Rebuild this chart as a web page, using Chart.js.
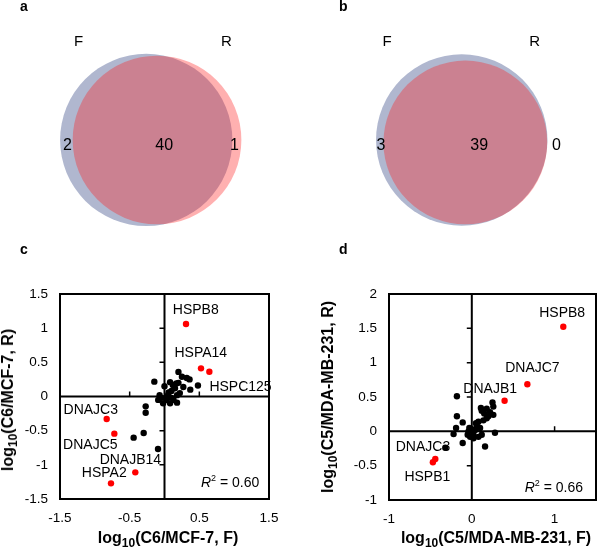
<!DOCTYPE html>
<html>
<head>
<meta charset="utf-8">
<script src="https://cdn.jsdelivr.net/npm/chart.js@4.4.1/dist/chart.umd.min.js"></script>
<style>
  body { margin: 0; background: #fff; }
  #fig { position: relative; width: 600px; height: 549px; overflow: hidden;
         font-family: "Liberation Sans", Arial, sans-serif; color: #000; }
  .pane { position: absolute; }
  .letter { position: absolute; font-weight: bold; font-size: 14px; line-height: 14px; }
  .title { position: absolute; font-weight: bold; font-size: 16px; line-height: 18px;
           white-space: nowrap; transform: translate(-50%, -50%); }
  .title sub { font-size: 12px; vertical-align: -4px; line-height: 0; }
  .rot { transform: translate(-50%, -50%) rotate(-90deg); }
</style>
</head>
<body>
<div id="fig">
  <canvas id="ca" class="pane" width="300" height="270" style="left:0;top:0"></canvas>
  <canvas id="cb" class="pane" width="300" height="270" style="left:300px;top:0"></canvas>
  <canvas id="cc" class="pane" width="300" height="279" style="left:0;top:270px"></canvas>
  <canvas id="cd" class="pane" width="300" height="279" style="left:300px;top:270px"></canvas>

  <div class="letter" style="left:20px;top:-1px">a</div>
  <div class="letter" style="left:339px;top:-1px">b</div>
  <div class="letter" style="left:20px;top:242px">c</div>
  <div class="letter" style="left:339px;top:242px">d</div>

  <div class="title" style="left:168px;top:538px">log<sub>10</sub>(C6/MCF-7, F)</div>
  <div class="title rot" style="left:8px;top:400px">log<sub>10</sub>(C6/MCF-7, R)</div>
  <div class="title" style="left:496px;top:538px">log<sub>10</sub>(C5/MDA-MB-231, F)</div>
  <div class="title rot" style="left:328px;top:397px">log<sub>10</sub>(C5/MDA-MB-231, R)</div>
</div>

<script>
// ---- venn data (F only, both, R only) ----
const setNames = ["F", "R"];
const vennCountsA = [2, 40, 1];
const vennCountsB = [3, 39, 0];
// circles F, R : centre x, centre y, radius (venn units)
const vennCirclesA = [[-0.044, -0.058, 1.005], [0.082, -0.058, 0.984]];
const vennCirclesB = [[0.137, -0.058, 1.0], [0.179, -0.087, 0.955]];

// ---- panel c : C6 / MCF-7 ----
const cBlackX = [-0.146, -0.27, -0.27, -0.443, -0.299, -0.093, 0.48, 0.08, 0.20, 0.25, 0.32, 0.36,
                 0.37, 0.17, 0.15, 0.10, -0.09, -0.07, 0.05, 0.03, 0.13, 0.08, 0.18, -0.02,
                 0.22, 0.27, 0.00, 0.12, 0.20, 0.06, 0.18, -0.04, 0.10];
const cBlackY = [0.217, -0.144, -0.237, -0.602, -0.534, -0.768, 0.16, 0.21, 0.36, 0.29, 0.27, 0.25,
                 0.10, 0.19, 0.12, 0.08, -0.05, 0.02, 0.02, -0.05, -0.05, -0.10, -0.09, -0.10,
                 0.05, 0.14, 0.15, 0.17, 0.20, 0.06, 0.02, -0.02, -0.02];
const cRedX = [0.309, 0.524, 0.644, -0.83, -0.72, -0.419, -0.768];
const cRedY = [1.061, 0.412, 0.363, -0.329, -0.544, -1.11, -1.271];
const cNames = ["HSPB8", "HSPA14", "HSPC125", "DNAJC3", "DNAJC5", "DNAJB14", "HSPA2"];
const cR2 = "0.60";
const cXTicks = [-1.5, -0.5, 0.5, 1.5];
const cYTicks = [-1.5, -1, -0.5, 0, 0.5, 1, 1.5];

// ---- panel d : C5 / MDA-MB-231 ----
const dBlackX = [-0.18, -0.18, -0.11, -0.19, -0.22, -0.32, -0.11, 0.16, 0.28, 0.25, 0.11, -0.04,
                 -0.02, 0.02, 0.06, 0.08, 0.12, 0.18, 0.22, 0.26, 0.26, 0.18, 0.14, 0.10,
                 0.04, 0.08, 0.02, -0.05, 0.05, 0.20, 0.12, 0.00, -0.03, 0.15];
const dBlackY = [0.51, 0.22, 0.13, 0.05, -0.04, -0.24, -0.17, -0.22, -0.02, 0.42, 0.34, 0.00,
                 -0.08, -0.10, 0.09, 0.14, 0.30, 0.33, 0.28, 0.36, 0.24, 0.19, 0.16, 0.05,
                 0.02, -0.08, -0.05, -0.05, 0.12, 0.22, -0.05, 0.03, 0.05, 0.26];
const dRedX = [1.105, 0.671, 0.396, -0.441, -0.47];
const dRedY = [1.524, 0.685, 0.446, -0.403, -0.451];
const dNames = ["HSPB8", "DNAJC7", "DNAJB1", "DNAJC3", "HSPB1"];
const dR2 = "0.66";
const dXTicks = [-1, 0, 1];
const dYTicks = [-1, -0.5, 0, 0.5, 1, 1.5, 2];

const FONT = '"Liberation Sans", Arial, sans-serif';
const pts = (xs, ys) => xs.map((v, i) => ({ x: v, y: ys[i] }));

// box, zero lines and their little ticks
const framePlugin = {
  id: 'frame',
  beforeDatasetsDraw(chart) {
    const { ctx, chartArea: a, scales: { x, y } } = chart;
    const x0 = x.getPixelForValue(0), y0 = y.getPixelForValue(0);
    ctx.save();
    ctx.strokeStyle = '#000';
    ctx.lineWidth = 2;
    ctx.strokeRect(a.left, a.top, a.right - a.left, a.bottom - a.top);
    ctx.beginPath();
    ctx.moveTo(x0, a.top); ctx.lineTo(x0, a.bottom);
    ctx.moveTo(a.left, y0); ctx.lineTo(a.right, y0);
    ctx.stroke();
    ctx.lineWidth = 1.5;
    ctx.beginPath();
    y.ticks.forEach(t => { const p = y.getPixelForValue(t.value); ctx.moveTo(x0 - 5, p); ctx.lineTo(x0, p); });
    x.ticks.forEach(t => { const p = x.getPixelForValue(t.value); ctx.moveTo(p, y0 - 5); ctx.lineTo(p, y0); });
    ctx.stroke();
    ctx.restore();
  }
};

// text placed in data coordinates
const textPlugin = {
  id: 'texts',
  afterDatasetsDraw(chart, args, opts) {
    const { ctx, scales: { x, y } } = chart;
    ctx.save();
    ctx.fillStyle = '#000';
    ctx.textBaseline = 'middle';
    (opts.items || []).forEach(it => {
      ctx.font = it.font;
      ctx.textAlign = 'center';
      ctx.fillText(it.text, x.getPixelForValue(it.x), y.getPixelForValue(it.y));
    });
    if (opts.r2) {
      const px = x.getPixelForValue(opts.r2.x), py = y.getPixelForValue(opts.r2.y);
      const rest = ' = ' + opts.r2.value;
      ctx.textAlign = 'left';
      ctx.font = 'italic 14px ' + FONT; const wR = ctx.measureText('R').width;
      ctx.font = '9px ' + FONT; const w2 = ctx.measureText('2').width;
      ctx.font = '14px ' + FONT; const wRest = ctx.measureText(rest).width;
      let sx = px - (wR + w2 + wRest);
      ctx.font = 'italic 14px ' + FONT; ctx.fillText('R', sx, py); sx += wR;
      ctx.font = '9px ' + FONT; ctx.fillText('2', sx, py - 5); sx += w2;
      ctx.font = '14px ' + FONT; ctx.fillText(rest, sx, py);
    }
    ctx.restore();
  }
};

function vennChart(id, circles, counts, countPos, namePos) {
  const radius = c => {
    const s = c.chart.scales.x;
    return s.getPixelForValue(c.raw.r) - s.getPixelForValue(0);
  };
  const items = [];
  setNames.forEach((n, i) => items.push({ text: n, x: namePos[i][0], y: namePos[i][1], font: '15px ' + FONT }));
  counts.forEach((n, i) => items.push({ text: String(n), x: countPos[i][0], y: countPos[i][1], font: '16px ' + FONT }));
  new Chart(document.getElementById(id), {
    type: 'scatter',
    data: {
      datasets: [
        { label: setNames[1], order: 0, data: [{ x: circles[1][0], y: circles[1][1], r: circles[1][2] }],
          backgroundColor: 'rgba(255,30,30,0.35)', borderWidth: 0, pointRadius: radius },
        { label: setNames[0], order: 1, data: [{ x: circles[0][0], y: circles[0][1], r: circles[0][2] }],
          backgroundColor: 'rgb(176,183,207)', borderWidth: 0, pointRadius: radius }
      ]
    },
    options: {
      responsive: false, animation: false, events: [],
      layout: { padding: 0 },
      scales: {
        x: { type: 'linear', min: -1.75, max: 1.75, display: false },
        y: { type: 'linear', min: -1.575, max: 1.575, display: false }
      },
      plugins: { legend: { display: false }, tooltip: { enabled: false }, texts: { items } }
    },
    plugins: [textPlugin]
  });
}

function scatterChart(id, cfg) {
  const tickFont = { family: FONT, size: 13.5 };
  const items = cfg.names.map((n, i) => ({ text: n, x: cfg.labelPos[i][0], y: cfg.labelPos[i][1], font: '14px ' + FONT }));
  new Chart(document.getElementById(id), {
    type: 'scatter',
    data: {
      datasets: [
        { label: 'highlighted', data: pts(cfg.redX, cfg.redY), backgroundColor: '#ff0000',
          borderWidth: 0, pointRadius: 3.2 },
        { label: 'other', data: pts(cfg.blackX, cfg.blackY), backgroundColor: '#000',
          borderWidth: 0, pointRadius: 3.2 }
      ]
    },
    options: {
      responsive: false, animation: false, events: [],
      layout: { padding: { top: 24, right: cfg.padRight, left: 0, bottom: 0 } },
      scales: {
        x: {
          type: 'linear', min: cfg.xTicks[0], max: cfg.xMax,
          afterBuildTicks: s => { s.ticks = cfg.xTicks.map(v => ({ value: v })); },
          afterFit: s => { s.height = cfg.xAxisH; },
          grid: { display: false, drawTicks: false }, border: { display: false },
          ticks: { color: '#000', font: tickFont, padding: 11, callback: v => String(v) }
        },
        y: {
          type: 'linear', min: cfg.yTicks[0], max: cfg.yTicks[cfg.yTicks.length - 1],
          afterBuildTicks: s => { s.ticks = cfg.yTicks.map(v => ({ value: v })); },
          afterFit: s => { s.width = cfg.yAxisW; },
          grid: { display: false, drawTicks: false }, border: { display: false },
          ticks: { color: '#000', font: tickFont, padding: 12, callback: v => String(v) }
        }
      },
      plugins: {
        legend: { display: false }, tooltip: { enabled: false },
        texts: { items, r2: cfg.r2 }
      }
    },
    plugins: [framePlugin, textPlugin]
  });
}

vennChart('ca', vennCirclesA, vennCountsA,
  [[-0.963, -0.126], [0.165, -0.126], [0.986, -0.126]],
  [[-0.832, 1.089], [0.891, 1.089]]);
vennChart('cb', vennCirclesB, vennCountsB,
  [[-0.807, -0.126], [0.341, -0.126], [1.243, -0.126]],
  [[-0.733, 1.089], [0.988, 1.089]]);

scatterChart('cc', {
  blackX: cBlackX, blackY: cBlackY, redX: cRedX, redY: cRedY, names: cNames,
  labelPos: [[0.449, 1.263], [0.521, 0.634], [1.091, 0.143], [-1.058, -0.195],
             [-1.065, -0.715], [-0.49, -0.925], [-0.864, -1.115]],
  r2: { value: cR2, x: 1.36, y: -1.27 },
  xTicks: cXTicks, xMax: 1.5, yTicks: cYTicks,
  yAxisW: 60, xAxisH: 50, padRight: 31
});

scatterChart('cd', {
  blackX: dBlackX, blackY: dBlackY, redX: dRedX, redY: dRedY, names: dNames,
  labelPos: [[1.091, 1.716], [0.732, 0.918], [0.222, 0.621], [-0.59, -0.231], [-0.537, -0.66]],
  r2: { value: dR2, x: 1.344, y: -0.83 },
  xTicks: dXTicks, xMax: 1.5, yTicks: dYTicks,
  yAxisW: 89, xAxisH: 49, padRight: 2
});
</script>
</body>
</html>
